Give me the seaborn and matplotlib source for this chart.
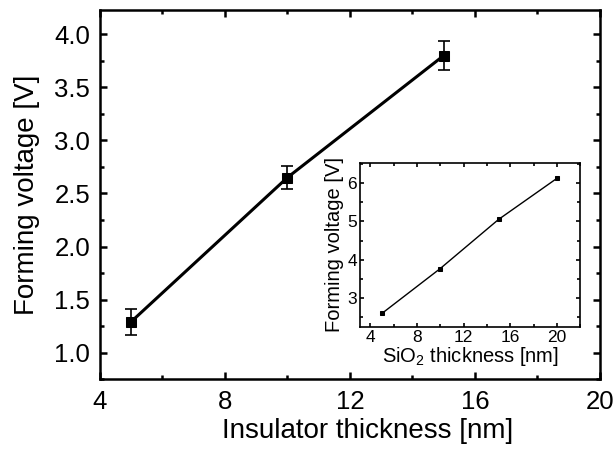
import numpy as np
import pandas as pd
import matplotlib
matplotlib.use("Agg")
import matplotlib.pyplot as plt
from matplotlib.ticker import MultipleLocator, FormatStrFormatter
import seaborn as sns

# === Data ===
thickness = [5, 10, 15]
forming_v = [1.29, 2.65, 3.80]
forming_err = [0.12, 0.11, 0.14]

sio2_thickness = [5, 10, 15, 20]
sio2_forming_v = [2.60, 3.77, 5.05, 6.12]

sns.set_style("ticks")
plt.rcParams['font.family'] = ['Liberation Sans', 'DejaVu Sans']
plt.rcParams['mathtext.default'] = 'regular'
plt.rcParams['text.color'] = 'black'
plt.rcParams['axes.labelcolor'] = 'black'
plt.rcParams['xtick.color'] = 'black'
plt.rcParams['ytick.color'] = 'black'

df_main = pd.DataFrame({'thickness': thickness, 'voltage': forming_v})
df_inset = pd.DataFrame({'thickness': sio2_thickness, 'voltage': sio2_forming_v})


def style_ticks(ax, size_major, size_minor, width, labelsize):
    ax.tick_params(which='both', direction='in', top=True, right=True,
                   width=width, labelsize=labelsize, color='black',
                   labelcolor='black')
    ax.tick_params(which='major', length=size_major)
    ax.tick_params(which='minor', length=size_minor)
    ax.tick_params(labeltop=False, labelright=False)
    for s in ax.spines.values():
        s.set_visible(True)
        s.set_linewidth(width)
        s.set_color('black')


fig = plt.figure(figsize=(6.16, 4.54), dpi=100)
ax = fig.add_axes([0.162, 0.165, 0.812, 0.813])

sns.lineplot(data=df_main, x='thickness', y='voltage', ax=ax, color='black',
             linewidth=2.2, marker='s', markersize=7.5, markeredgecolor='black')
ax.errorbar(thickness, forming_v, yerr=forming_err, fmt='none', ecolor='black',
            elinewidth=1.2, capsize=4, capthick=1.2)

ax.set_xlim(4, 20)
ax.set_ylim(0.75, 4.23)
ax.xaxis.set_major_locator(MultipleLocator(4))
ax.xaxis.set_minor_locator(MultipleLocator(2))
ax.yaxis.set_major_locator(MultipleLocator(0.5))
ax.yaxis.set_minor_locator(MultipleLocator(0.25))
ax.yaxis.set_major_formatter(FormatStrFormatter('%.1f'))
style_ticks(ax, 5, 3, 1.8, 18.5)
ax.tick_params(axis='x', pad=8)
ax.tick_params(axis='y', pad=7)
ax.set_xlabel("Insulator thickness [nm]", fontsize=20, labelpad=2)
ax.xaxis.set_label_coords(0.536, -0.105)
ax.set_ylabel("Forming voltage [V]", fontsize=20, labelpad=10)

# === Inset ===
axin = fig.add_axes([0.584, 0.280, 0.358, 0.361])
sns.lineplot(data=df_inset, x='thickness', y='voltage', ax=axin, color='black',
             linewidth=1.0, marker='s', markersize=3.5, markeredgecolor='black')
axin.set_xlim(3.1, 22)
axin.set_ylim(2.25, 6.52)
axin.xaxis.set_major_locator(MultipleLocator(4))
axin.xaxis.set_minor_locator(MultipleLocator(2))
axin.yaxis.set_major_locator(MultipleLocator(1))
axin.yaxis.set_minor_locator(MultipleLocator(0.5))
style_ticks(axin, 3, 2, 1.2, 12.5)
axin.tick_params(pad=2)
axin.set_xlabel("SiO$_2$ thickness [nm]", fontsize=14.5, labelpad=0)
axin.set_ylabel("Forming voltage [V]", fontsize=14.5, labelpad=2)

fig.savefig("out.png", dpi=100)
plt.close(fig)
